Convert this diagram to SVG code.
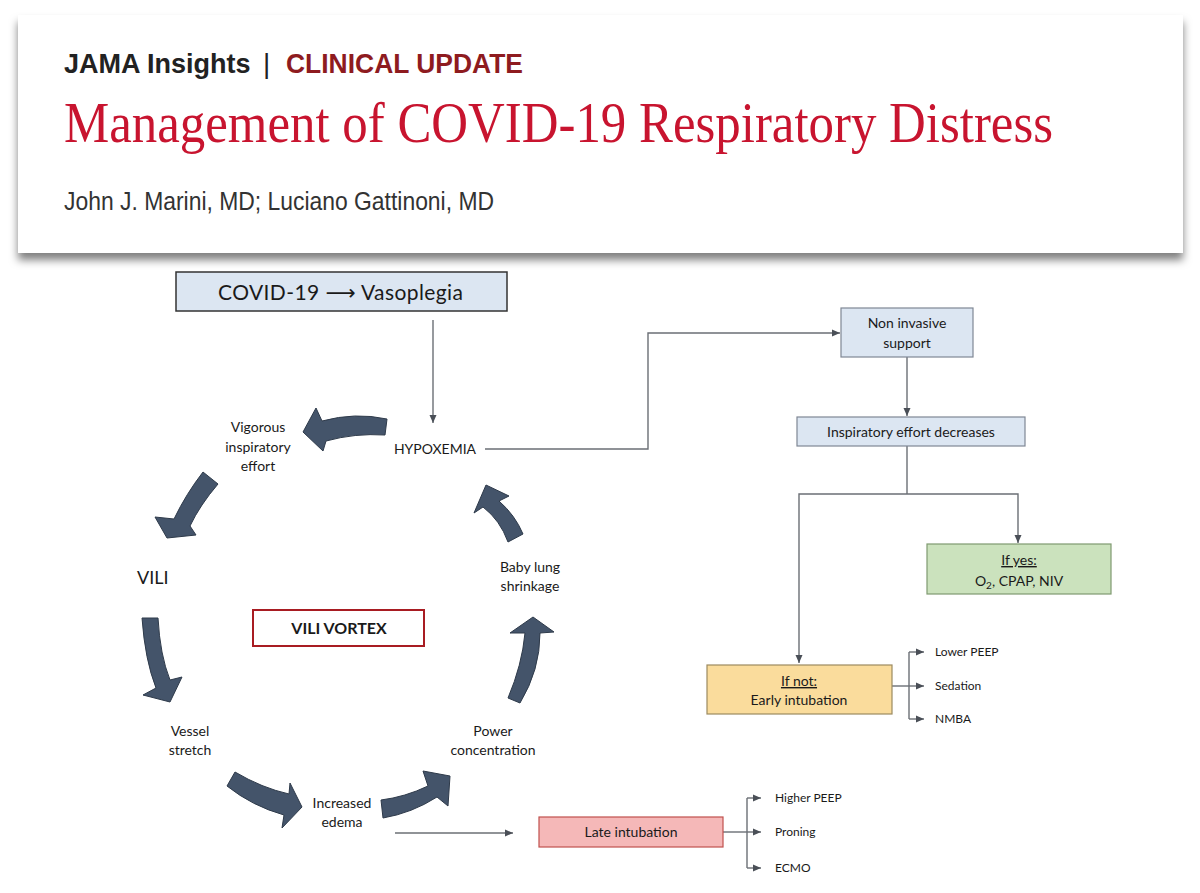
<svg xmlns="http://www.w3.org/2000/svg" width="1200" height="893" viewBox="0 0 1200 893">
<defs>
<filter id="sh" x="-5%" y="-10%" width="110%" height="130%">
<feDropShadow dx="0" dy="7" stdDeviation="4" flood-color="#000" flood-opacity="0.5"/>
</filter>
<marker id="ah" markerWidth="9" markerHeight="8" refX="8" refY="4" orient="auto" markerUnits="userSpaceOnUse">
<path d="M0,0.5 L8,4 L0,7.5 Z" fill="#4a4f57"/>
</marker>
<style>
.t{font-family:Lato,"Liberation Sans",sans-serif;fill:#1a1a1a}
.c{text-anchor:middle}
.ln{fill:none;stroke:#6b6f75;stroke-width:1.4}
.la{fill:none;stroke:#6b6f75;stroke-width:1.4;marker-end:url(#ah)}
.ba{fill:#44546a;stroke:#2e3a4a;stroke-width:1}
.sm{font-size:12px}
.md{font-size:14px}
</style>
</defs>
<rect width="1200" height="893" fill="#fff"/>
<g id="header">
<rect x="18" y="15" width="1165" height="238" fill="#fff" filter="url(#sh)"/>
<text x="64" y="73" font-family="'Liberation Sans',sans-serif" font-weight="bold" font-size="27" fill="#222">JAMA Insights</text>
<text x="263" y="73" font-family="'Liberation Sans',sans-serif" font-size="28" fill="#222">|</text>
<text x="286" y="73" font-family="'Liberation Sans',sans-serif" font-weight="bold" font-size="27" fill="#8e1b1f" textLength="237" lengthAdjust="spacingAndGlyphs">CLINICAL UPDATE</text>
<text x="64" y="142" font-family="'Liberation Serif',serif" font-size="58" fill="#c8142f" textLength="989" lengthAdjust="spacingAndGlyphs">Management of COVID-19 Respiratory Distress</text>
<text x="64" y="210" font-family="'Liberation Sans',sans-serif" font-size="26" fill="#333" textLength="430" lengthAdjust="spacingAndGlyphs">John J. Marini, MD; Luciano Gattinoni, MD</text>
</g>
<g id="connectors">
<line class="la" x1="433" y1="320" x2="433" y2="423"/>
<polyline class="la" points="485,449 648,449 648,333 840,333"/>
<line class="la" x1="907" y1="357" x2="907" y2="416"/>
<line class="ln" x1="907" y1="446" x2="907" y2="494"/>
<polyline class="la" points="907,494 799,494 799,663"/>
<polyline class="la" points="907,494 1018,494 1018,543"/>
<line class="ln" x1="892" y1="686" x2="909" y2="686"/>
<line class="ln" x1="909" y1="652" x2="909" y2="719"/>
<line class="la" x1="909" y1="652" x2="924" y2="652"/>
<line class="la" x1="909" y1="686" x2="924" y2="686"/>
<line class="la" x1="909" y1="719" x2="924" y2="719"/>
<line class="la" x1="395" y1="833" x2="513" y2="833"/>
<line class="ln" x1="723" y1="832" x2="747" y2="832"/>
<line class="ln" x1="747" y1="798" x2="747" y2="868"/>
<line class="la" x1="747" y1="798" x2="761" y2="798"/>
<line class="la" x1="747" y1="832" x2="761" y2="832"/>
<line class="la" x1="747" y1="868" x2="761" y2="868"/>
</g>
<g id="cycle-arrows">
<path class="ba" d="M387,419 Q355,412 322,421 L316,408 L303,432 L323,451 L326,441 Q355,433 385,435 Z"/>
<path class="ba" d="M203,472 L218,484 Q200,505 190,526 L196,535 L167,538 L155,517 L174,519 Q186,494 203,472 Z"/>
<path class="ba" d="M142,618 L158,618 Q160,655 170,680 L182,677 L170,702 L143,695 L156,688 Q145,660 142,618 Z"/>
<path class="ba" d="M235,772 Q262,788 289,794 L290,783 L302,807 L282,828 L284,815 Q252,806 227,786 Z"/>
<path class="ba" d="M381,800 Q405,797 428,786 L423,771 L450,776 L448,806 L437,797 Q412,813 383,818 Z"/>
<path class="ba" d="M508,698 Q522,665 525,633 L510,633 L533,617 L554,632 L540,633 Q540,670 520,703 Z"/>
<path class="ba" d="M508,542 Q500,520 483,507 L474,513 L486,485 L509,496 L499,501 Q515,515 523,534 Z"/>
</g>
<g id="covid">
<rect x="176" y="272" width="331" height="39" fill="#dce6f2" stroke="#333" stroke-width="1.5"/>
<text class="t" x="218" y="300" font-size="21" textLength="245" lengthAdjust="spacing">COVID-19 <tspan font-family="'DejaVu Sans',sans-serif">⟶</tspan> Vasoplegia</text>
</g>
<g id="hypoxemia"><text class="t c md" x="435" y="454">HYPOXEMIA</text></g>
<g id="vigorous"><text class="t c md" x="258" y="432">Vigorous</text><text class="t c md" x="258" y="452">inspiratory</text><text class="t c md" x="258" y="471">effort</text></g>
<g id="vili"><text class="t" x="137" y="584" font-size="18">VILI</text></g>
<g id="vortex">
<rect x="253" y="610" width="171" height="36" fill="#fff" stroke="#a81c22" stroke-width="2"/>
<text class="t c" x="339" y="634" font-size="16" font-weight="bold">VILI VORTEX</text>
</g>
<g id="baby"><text class="t c md" x="530" y="572">Baby lung</text><text class="t c md" x="530" y="591">shrinkage</text></g>
<g id="vessel"><text class="t c md" x="190" y="736">Vessel</text><text class="t c md" x="190" y="755">stretch</text></g>
<g id="power"><text class="t c md" x="493" y="736">Power</text><text class="t c md" x="493" y="755">concentration</text></g>
<g id="edema"><text class="t c md" x="342" y="808">Increased</text><text class="t c md" x="342" y="827">edema</text></g>
<g id="noninvasive">
<rect x="841" y="308" width="132" height="49" fill="#dce6f2" stroke="#7f8794" stroke-width="1.2"/>
<text class="t c md" x="907" y="328">Non invasive</text><text class="t c md" x="907" y="348">support</text>
</g>
<g id="inspiratory">
<rect x="797" y="417" width="228" height="29" fill="#dce6f2" stroke="#7f8794" stroke-width="1.2"/>
<text class="t c md" x="911" y="437">Inspiratory effort decreases</text>
</g>
<g id="ifyes">
<rect x="927" y="544" width="184" height="50" fill="#cbe2bd" stroke="#7f9a70" stroke-width="1.2"/>
<text class="t c md" x="1019" y="565" text-decoration="underline">If yes:</text>
<text class="t c md" x="1019" y="586">O<tspan font-size="10" dy="3">2</tspan><tspan dy="-3">, CPAP, NIV</tspan></text>
</g>
<g id="ifnot">
<rect x="707" y="665" width="185" height="49" fill="#fadc9c" stroke="#9c8a60" stroke-width="1.2"/>
<text class="t c md" x="799" y="686" text-decoration="underline">If not:</text>
<text class="t c md" x="799" y="705">Early intubation</text>
</g>
<g id="early-options">
<text class="t sm" x="935" y="656">Lower PEEP</text>
<text class="t sm" x="935" y="690">Sedation</text>
<text class="t sm" x="935" y="723">NMBA</text>
</g>
<g id="late">
<rect x="539" y="817" width="184" height="30" fill="#f5b8b8" stroke="#c0504d" stroke-width="1.2"/>
<text class="t c md" x="631" y="837">Late intubation</text>
</g>
<g id="late-options">
<text class="t sm" x="775" y="802">Higher PEEP</text>
<text class="t sm" x="775" y="836">Proning</text>
<text class="t sm" x="775" y="872">ECMO</text>
</g>
</svg>
